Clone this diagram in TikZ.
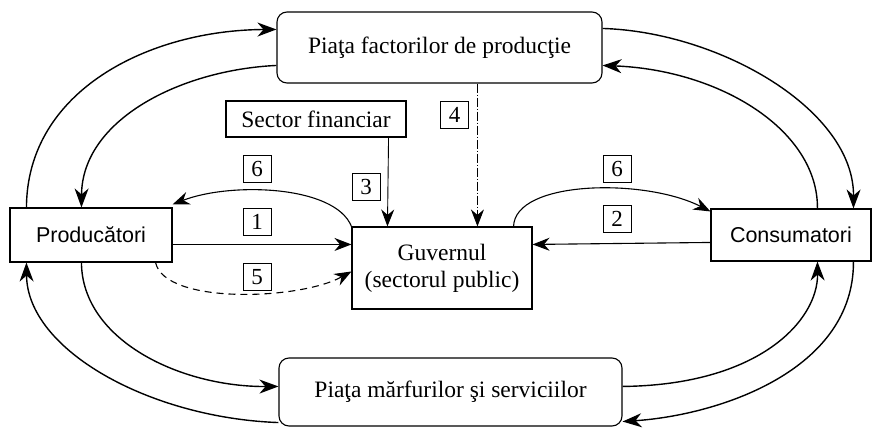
\documentclass[tikz,border=0pt]{standalone}
\usepackage{fontspec}
\setmainfont{Liberation Serif}
\newfontfamily\sansf{Liberation Sans}
\usetikzlibrary{arrows.meta,calc}
\begin{document}
\begin{tikzpicture}[x=1pt,y=-1pt,
  every node/.style={font=\fontsize{23.5}{27}\selectfont},
  box/.style={draw,line width=1.1pt,inner sep=0pt,align=center},
  rbox/.style={box,rounded corners=10pt},
  num/.style={draw,line width=0.9pt,minimum width=28pt,minimum height=27pt,inner sep=0pt,font=\fontsize{23}{24}\selectfont},
  flow/.style={line width=1.4pt,-{Stealth[length=19pt,width=14pt,inset=6pt]}},
  midflow/.style={line width=1.1pt,-{Stealth[length=17pt,width=13pt,inset=5.5pt]}},
  thinflow/.style={line width=0.9pt,-{Stealth[length=17pt,width=13pt,inset=5.5pt]}}
]
\useasboundingbox (0,0) rectangle (872,428);

% boxes
\node[rbox,minimum width=325pt,minimum height=71pt] (top) at (439.5,47.5) {Pia\c{t}a factorilor de produc\c{t}ie};
\node[box,minimum width=180pt,minimum height=36pt] (fin) at (316,119) {Sector financiar};
\node[box,minimum width=162pt,minimum height=54pt,font=\sansf\fontsize{21.5}{26}\selectfont] (prod) at (91,235) {Producători};
\node[box,minimum width=180pt,minimum height=82pt] (gov) at (442,268) {Guvernul\\(sectorul public)};
\node[box,minimum width=160pt,minimum height=52pt,font=\sansf\fontsize{21.5}{26}\selectfont,text width=150pt,align=left] (cons) at (791,235) {\hspace*{14pt}Consumatori};
\node[rbox,minimum width=343pt,minimum height=68pt] (bot) at (450.5,392) {Pia\c{t}a mărfurilor \c{s}i serviciilor};

% outer loops
\draw[flow] ($(prod.north west)+(17,0)$) .. controls (27,90) and (150,30) .. ($(top.north west)+(0,18)$);
\draw[flow] ($(top.north west)+(0,54)$) .. controls (180,70) and (82,120) .. ($(prod.north west)+(72,0)$);
\draw[flow] ($(top.north east)+(0,17)$) .. controls (720,32) and (854,110) .. ($(cons.north west)+(143,0)$);
\draw[flow] ($(cons.north west)+(107,0)$) .. controls (818,130) and (720,70) .. ($(top.north east)+(0,54)$);
\draw[flow] ($(prod.south west)+(72,0)$) .. controls (82,340) and (180,387) .. ($(bot.north west)+(0,29)$);
\draw[flow] ($(bot.south west)+(0,-4)$) .. controls (150,418) and (27,350) .. ($(prod.south west)+(17,0)$);
\draw[flow] ($(bot.north east)+(0,29)$) .. controls (760,385) and (818,320) .. ($(cons.south west)+(107,0)$);
\draw[flow] ($(cons.south west)+(143,0)$) .. controls (854,370) and (720,415) .. ($(bot.south east)+(0,-5)$);

% middle flows
\draw[midflow] ($(prod.north east)+(0,37)$) -- ($(gov.north west)+(0,18)$);
\draw[midflow] ($(cons.north west)+(0,34)$) -- ($(gov.north east)+(0,18)$);
\draw[midflow,dash pattern=on 7pt off 5pt] ($(prod.south east)+(-17,0)$) .. controls (165,305) and (300,300) .. ($(gov.north west)+(0,45)$);
\draw[midflow] (gov.north west) .. controls (335,185) and (230,182) .. ($(prod.north east)+(0,-3)$);
\draw[midflow] ($(gov.north east)+(-19,0)$) .. controls (515,180) and (645,178) .. ($(cons.north west)+(0,3)$);
\draw[thinflow] ($(fin.south east)+(-18,0)$) -- ($(gov.north west)+(36,0)$);
\draw[thinflow,dash pattern=on 9pt off 2pt on 1pt off 2pt] ($(top.south west)+(201,0)$) -- ($(gov.north west)+(126,0)$);

% labels
\node[num] (n6a) at (257,169) {6};
\node[num] (n1) at (257,222) {1};
\node[num] (n5) at (257,277) {5};
\node[num] (n3) at (366,187) {3};
\node[num] (n4) at (454.5,115) {4};
\node[num] (n6b) at (617,168.5) {6};
\node[num] (n2) at (617,219) {2};
\end{tikzpicture}
\end{document}
